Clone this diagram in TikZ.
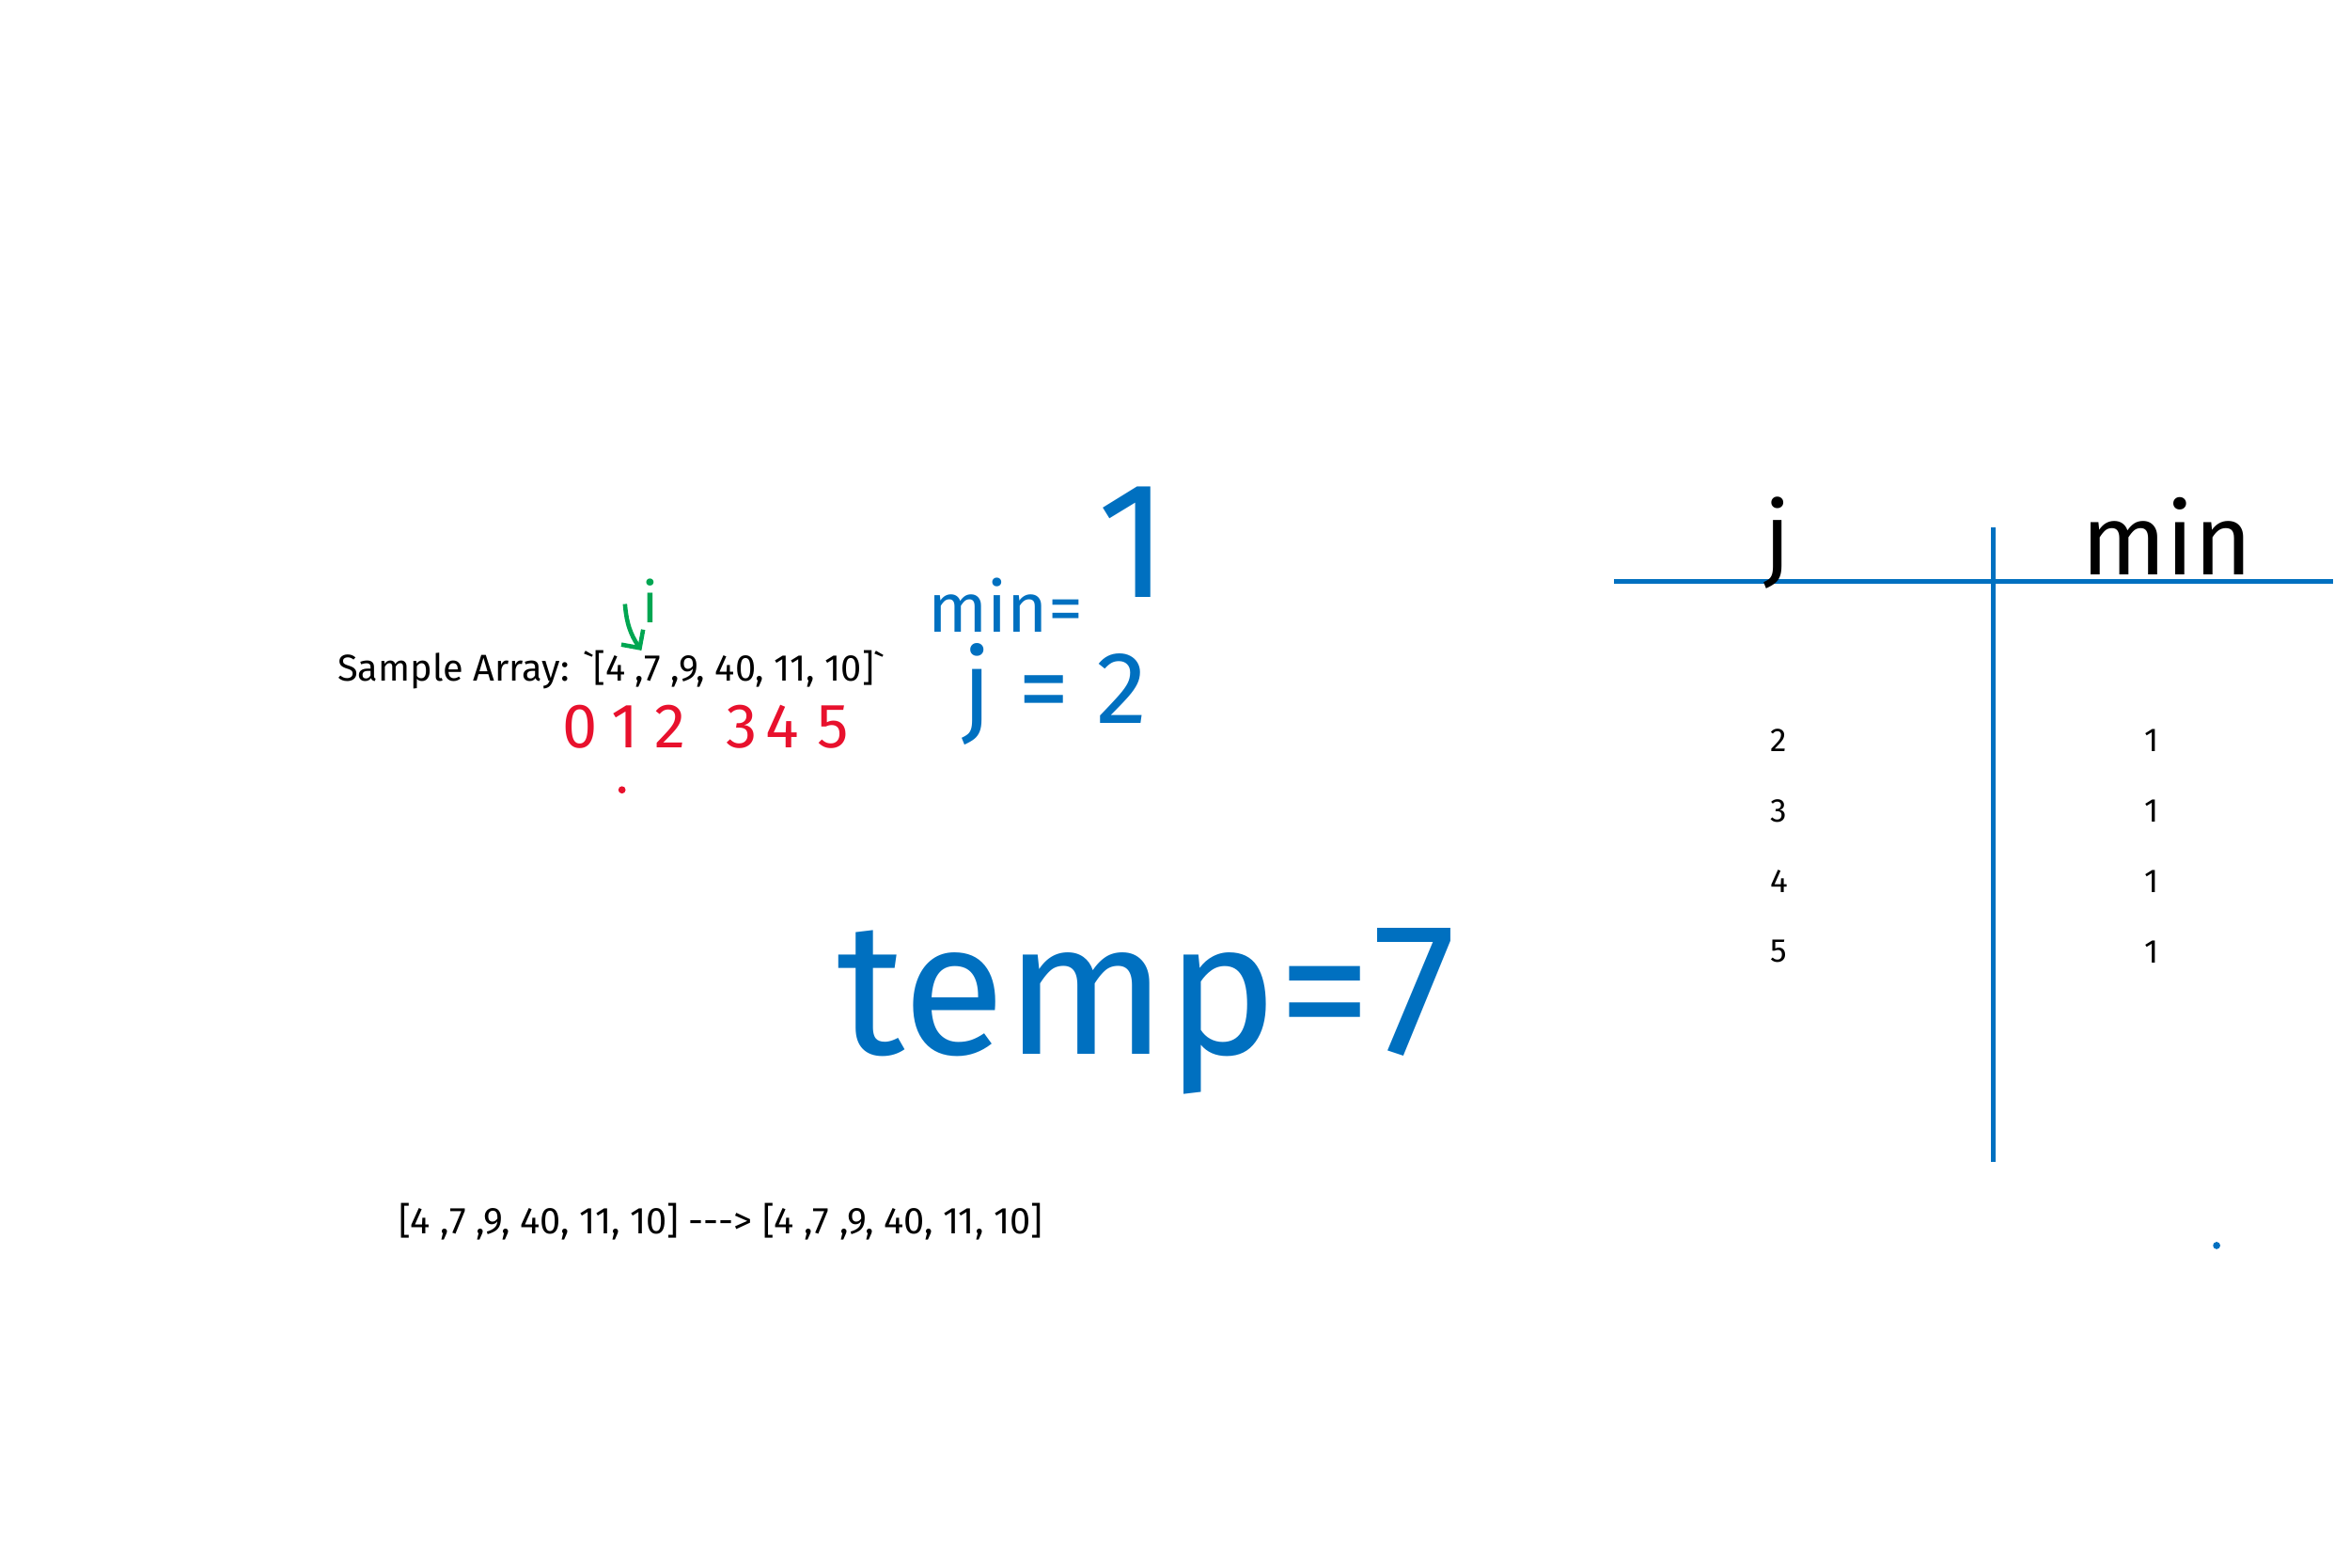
\documentclass[tikz,border=0pt]{standalone}
\usepackage{fontspec}
\setmainfont{Fira Sans}
\usetikzlibrary{positioning,calc,arrows.meta}
\definecolor{inkblue}{HTML}{0070C0}
\definecolor{inkred}{HTML}{E8112D}
\definecolor{inkgreen}{HTML}{00A651}
\tikzset{
  typed/.style={font=\fontsize{11.3}{13}\selectfont, inner sep=0pt},
  cell/.style={font=\fontsize{10}{12}\selectfont, inner sep=0pt},
  penblue/.style={text=inkblue, inner sep=0pt},
  pendigit/.style={text=inkred, inner sep=0pt, font=\fontsize{19}{19}\selectfont},
  rule/.style={draw=inkblue, line width=1.4pt},
  pendot/.style={circle, inner sep=0pt, minimum size=2.2pt},
}

\begin{document}
\begin{tikzpicture}[x=0.15944mm, y=-0.15944mm]
	\useasboundingbox (0,0) rectangle (1568,1046);

	% the array and its indices
	\node[typed] (sample) at (408,447) {Sample Array: \textasciigrave[4 ,7 ,9, 40, 11, 10]\textasciigrave};
	\foreach \d/\x in {0/387,1/417,2/447,3/495,4/522,5/556}
		\node[pendigit] (idx\d) at (\x,485) {\d};
	\node[pendot, fill=inkred] (rdot) at (415,527) {};

	% i pointer
	\node[text=inkgreen, inner sep=0pt, font=\fontsize{17}{17}\selectfont] (ilbl) at (434,401) {i};
	\coordinate (itail) at (417,403);
	\coordinate (itip) at (428,434);
	\draw[inkgreen, line width=1.3pt, -{Straight Barb[length=4pt]}] (itail) to[bend right=15] (itip);

	% current values
	\node[penblue, font=\fontsize{21}{21}\selectfont] (minlbl) at (671,404) {min=};
	\node[penblue, font=\fontsize{50}{50}\selectfont] (minval) at (756,362) {1};
	\node[penblue, font=\fontsize{31}{31}\selectfont] (jval) at (704,463) {j = 2};
	\node[penblue, font=\fontsize{57}{57}\selectfont] (temp) at (765,675) {temp=7};

	% trace table
	\coordinate (hl) at (1077,388);
	\coordinate (hr) at (1557,388);
	\coordinate (vt) at (1330,352);
	\coordinate (vb) at (1330,775);
	\draw[rule] (hl) -- (hr);
	\draw[rule] (vt) -- (vb);
	\node[inner sep=0pt, font=\fontsize{28}{28}\selectfont] (jhead) at (1186,362) {j};
	\node[inner sep=0pt, font=\fontsize{30}{30}\selectfont] (minhead) at (1446,358) {min};
	\foreach \r/\y in {2/494,3/541,4/588,5/635} {
		\node[cell] (j\r) at (1187,\y) {\r};
		\node[cell] (m\r) at (1436,\y) {1};
	}
	\node[pendot, fill=inkblue] (bdot) at (1479,831) {};

	% result
	\node[typed] (result) at (481,815) {[4 ,7 ,9, 40, 11, 10] -{}-{}-> [4 ,7 ,9, 40, 11, 10]};
\end{tikzpicture}
\end{document}
